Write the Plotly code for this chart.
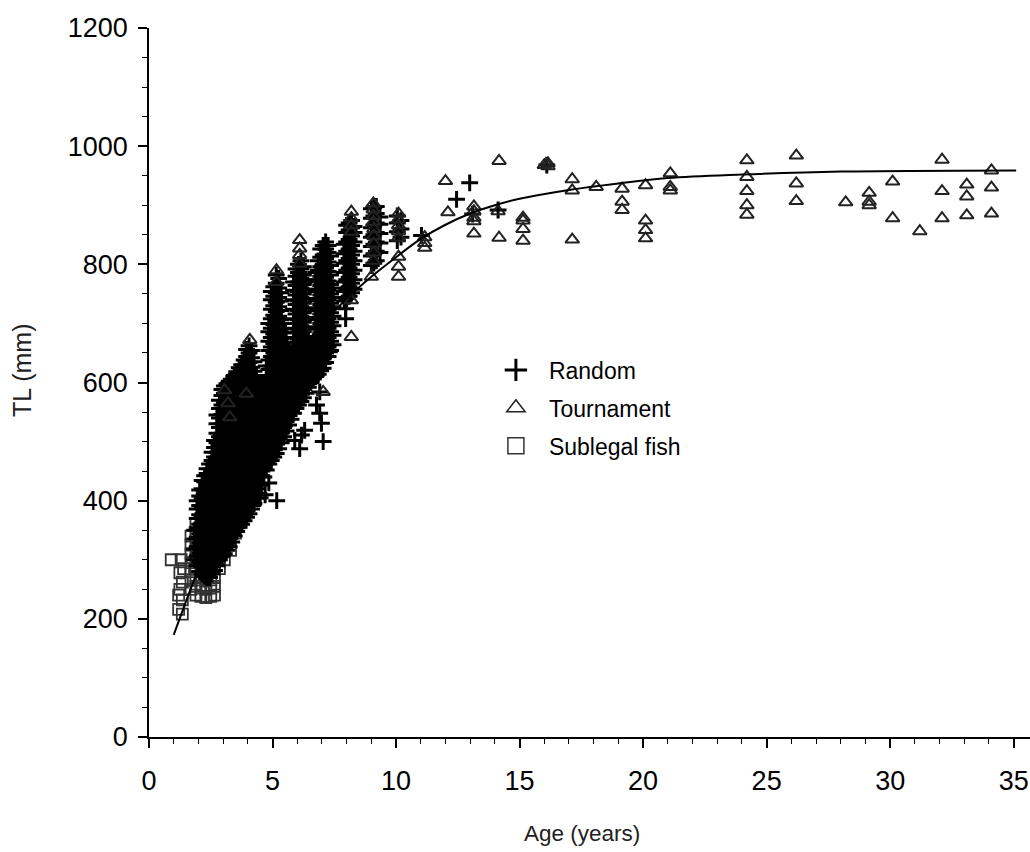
import plotly.graph_objects as go

# ---- Random sample (plus markers): total length (mm) by age column ----
random_col_age = [
    1.85, 1.95, 2.05, 2.15, 2.25, 2.35, 2.45, 2.55, 2.65, 2.75,
    2.85, 2.95, 3.05, 3.15, 3.25, 3.35, 3.45, 3.55, 3.65, 3.75,
    3.85, 3.95, 4.05, 4.15, 4.25, 4.35, 4.45, 4.55, 4.65, 4.75,
    4.85, 4.95, 5.05, 5.15, 5.25, 5.35, 5.45, 5.55, 5.65, 5.75,
    5.85, 5.95, 6.05, 6.15, 6.25, 6.35, 6.45, 6.55, 6.65, 6.75,
    6.85, 6.95, 7.05, 7.15, 7.25, 7.35, 7.45,
    7.9, 8.0, 8.1, 8.2, 8.3,
    9.0, 9.1, 9.2, 9.35, 10.05, 10.2,
]
random_col_tl = [
    [300, 318, 335, 350],
    [290, 306, 322, 338, 354, 370, 386, 400],
    [280, 296, 312, 328, 344, 360, 376, 392, 408, 418],
    [276, 292, 308, 324, 340, 356, 372, 388, 404, 420, 434],
    [272, 288, 304, 320, 336, 352, 368, 384, 400, 416, 432, 442],
    [270, 286, 302, 318, 334, 350, 366, 382, 398, 414, 430, 446, 454],
    [270, 286, 302, 318, 334, 350, 366, 382, 398, 414, 430, 446, 462],
    [276, 292, 308, 324, 340, 356, 372, 388, 404, 420, 436, 452, 468, 482],
    [282, 298, 314, 330, 346, 362, 378, 394, 410, 426, 442, 458, 474, 490, 502],
    [290, 306, 322, 338, 354, 370, 386, 402, 418, 434, 450, 466, 482, 498, 514, 530, 545],
    [300, 316, 332, 348, 364, 380, 396, 412, 428, 444, 460, 476, 492, 508, 524, 540, 556, 570],
    [306, 322, 338, 354, 370, 386, 402, 418, 434, 450, 466, 482, 498, 514, 530, 546, 562, 578, 588],
    [310, 326, 342, 358, 374, 390, 406, 422, 438, 454, 470, 486, 502, 518, 534, 550, 566, 582, 594],
    [316, 332, 348, 364, 380, 396, 412, 428, 444, 460, 476, 492, 508, 524, 540, 556, 572, 588, 598],
    [322, 338, 354, 370, 386, 402, 418, 434, 450, 466, 482, 498, 514, 530, 546, 562, 578, 594, 602],
    [330, 346, 362, 378, 394, 410, 426, 442, 458, 474, 490, 506, 522, 538, 554, 570, 586, 602],
    [340, 356, 372, 388, 404, 420, 436, 452, 468, 484, 500, 516, 532, 548, 564, 580, 596, 612],
    [348, 364, 380, 396, 412, 428, 444, 460, 476, 492, 508, 524, 540, 556, 572, 588, 604, 618],
    [355, 371, 387, 403, 419, 435, 451, 467, 483, 499, 515, 531, 547, 563, 579, 595, 611, 625],
    [360, 376, 392, 408, 424, 440, 456, 472, 488, 504, 520, 536, 552, 568, 584, 600, 616, 630],
    [366, 382, 398, 414, 430, 446, 462, 478, 494, 510, 526, 542, 558, 574, 590, 606, 622, 638],
    [372, 388, 404, 420, 436, 452, 468, 484, 500, 516, 532, 548, 564, 580, 596, 612, 628, 644, 656],
    [378, 394, 410, 426, 442, 458, 474, 490, 506, 522, 538, 554, 570, 586, 602, 618, 634, 650, 662],
    [386, 402, 418, 434, 450, 466, 482, 498, 514, 530, 546, 562, 578, 594, 610, 626, 642, 654],
    [395, 411, 427, 443, 459, 475, 491, 507, 523, 539, 555, 571, 587, 603, 619, 635],
    [404, 420, 436, 452, 468, 484, 500, 516, 532, 548, 564, 580, 596, 612],
    [412, 428, 444, 460, 476, 492, 508, 524, 540, 556, 572, 588, 600],
    [426, 442, 458, 474, 490, 506, 522, 538, 554, 570, 586, 598],
    [440, 456, 472, 488, 504, 520, 536, 552, 568, 584, 598],
    [452, 468, 484, 500, 516, 532, 548, 564, 580, 596, 612, 628],
    [462, 478, 494, 510, 526, 542, 558, 574, 590, 606, 622, 638, 654, 670, 686, 700],
    [468, 484, 500, 516, 532, 548, 564, 580, 596, 612, 628, 644, 660, 676, 692, 708, 724, 740, 754],
    [474, 490, 506, 522, 538, 554, 570, 586, 602, 618, 634, 650, 666, 682, 698, 714, 730, 746, 762],
    [480, 496, 512, 528, 544, 560, 576, 592, 608, 624, 640, 656, 672, 688, 704, 720, 736, 752, 768, 782],
    [488, 504, 520, 536, 552, 568, 584, 600, 616, 632, 648, 664, 680, 696, 712, 728, 744, 760, 776],
    [498, 514, 530, 546, 562, 578, 594, 610, 626, 642, 658, 674, 690, 706, 722, 738, 752],
    [508, 524, 540, 556, 572, 588, 604, 620, 636, 652, 668, 684, 700],
    [518, 534, 550, 566, 582, 598, 614, 630, 646, 662, 676],
    [528, 544, 560, 576, 592, 608, 624, 640, 656],
    [538, 554, 570, 586, 602, 618, 634, 650],
    [548, 564, 580, 596, 612, 628, 644, 660, 676, 692, 708, 724, 740, 756, 770],
    [556, 572, 588, 604, 620, 636, 652, 668, 684, 700, 716, 732, 748, 764, 780, 792],
    [562, 578, 594, 610, 626, 642, 658, 674, 690, 706, 722, 738, 754, 770, 786, 800],
    [568, 584, 600, 616, 632, 648, 664, 680, 696, 712, 728, 744, 760, 776, 792, 806],
    [574, 590, 606, 622, 638, 654, 670, 686, 702, 718, 734, 750, 766, 782, 796],
    [582, 598, 614, 630, 646, 662, 678, 694, 710, 726, 742, 758, 774],
    [592, 608, 624, 640, 656, 672],
    [600, 616, 632, 648, 664],
    [606, 622, 638, 654, 668],
    [610, 626, 642, 658, 674, 690, 706, 722, 738, 754, 770, 786],
    [614, 630, 646, 662, 678, 694, 710, 726, 742, 758, 774, 790, 806],
    [620, 636, 652, 668, 684, 700, 716, 732, 748, 764, 780, 796, 812, 826],
    [624, 640, 656, 672, 688, 704, 720, 736, 752, 768, 784, 800, 816, 832],
    [634, 650, 666, 682, 698, 714, 730, 746, 762, 778, 794, 810, 826, 838],
    [644, 660, 676, 692, 708, 724, 740, 756, 772, 788, 804, 820, 832],
    [654, 670, 686, 702, 718, 734, 750, 766, 782, 798, 814],
    [664, 680, 696, 712, 728, 744, 760],
    [738, 754, 770, 786, 802, 818, 834],
    [742, 758, 774, 790, 806, 822, 838, 854, 866],
    [746, 762, 778, 794, 810, 826, 842, 858, 870],
    [752, 768, 784, 800, 816, 832, 848, 862, 874],
    [758, 774, 790, 806, 822, 838, 854, 864],
    [798, 814, 830, 846, 862, 878, 894],
    [802, 818, 834, 850, 866, 882, 896],
    [806, 822, 838, 854, 870, 886, 898],
    [820, 836, 852, 868, 880],
    [840, 855, 870, 882],
    [846, 860, 874],
]
# individual fish away from the age columns
random_extra_age = [5.17, 4.7, 4.85, 4.2, 4.5, 6.78, 6.91, 6.91, 6.98, 7.05, 7.05, 7.3,
                    6.3, 6.17, 6.1, 5.9, 7.96, 7.96, 11.03, 12.45, 12.98, 14.13, 13.1, 16.1]
random_extra_tl = [400, 410, 430, 392, 405, 562, 584, 548, 531, 500, 632, 652,
                   519, 511, 488, 502, 725, 708, 849, 910, 938, 892, 885, 968]

random_age = [a for a, col in zip(random_col_age, random_col_tl) for _ in col] + random_extra_age
random_tl = [v for col in random_col_tl for v in col] + random_extra_tl

# ---- Tournament catches (open triangles) ----
tourn_age = [
    3.06, 3.2, 3.27, 3.94, 4.08,
    5.16, 5.16,
    6.1, 6.1, 6.1, 6.1,
    7.05,
    8.19, 8.19, 8.19, 8.19, 8.19, 8.19,
    9.08, 9.08, 9.08, 9.08, 9.1, 9.1, 9.1, 9.1, 9.08, 9.0,
    10.1, 10.1, 10.1, 10.1, 10.1, 10.1, 10.1, 10.1,
    11.16, 11.16, 11.16,
    12.0, 12.1,
    13.15, 13.15, 13.15, 13.15, 13.15,
    14.17, 14.13, 14.17,
    15.14, 15.14, 15.14, 15.14,
    16.15, 16.15, 16.0,
    17.13, 17.13, 17.13,
    18.1,
    19.15, 19.15, 19.15,
    20.1, 20.1, 20.1, 20.1,
    21.1, 21.1, 21.1,
    24.2, 24.2, 24.2, 24.2, 24.2,
    26.2, 26.2, 26.2,
    28.2,
    29.15, 29.15, 29.15,
    30.1, 30.1,
    31.2,
    32.1, 32.1, 32.1,
    33.1, 33.1, 33.1,
    34.1, 34.1, 34.1,
]
tourn_tl = [
    587, 565, 541, 581, 672,
    790, 770,
    841, 827, 816, 801,
    584,
    889, 878, 866, 855, 739, 677,
    903, 893, 882, 872, 860, 848, 835, 820, 806, 779,
    886, 876, 866, 856, 845, 813, 796, 779,
    846, 836, 828,
    941, 888,
    898, 890, 879, 873, 852,
    975, 890, 845,
    879, 874, 860, 840,
    971, 966, 968,
    944, 925, 842,
    931,
    928, 906, 892,
    934, 874, 858, 844,
    954, 931, 925,
    976, 948, 924, 900, 884,
    984, 937, 907,
    905,
    921, 906, 900,
    940, 878,
    856,
    977, 924, 878,
    935, 915, 883,
    959, 930, 886,
]

# ---- Sublegal fish (open squares) ----
sub_col_age = [1.7, 1.9, 2.1, 2.3, 2.5, 2.65, 2.85, 3.05, 3.3, 3.5]
sub_col_tl = [
    [250, 265, 280, 295, 310, 325, 340],
    [240, 255, 270, 285, 300, 315, 330, 345, 360],
    [238, 252, 266, 280, 295, 310, 325, 340, 355, 370],
    [236, 250, 264, 278, 292, 306, 320, 335, 350, 365, 380],
    [238, 252, 266, 280, 295, 310, 325, 340, 355],
    [240, 255, 270, 285, 300, 315],
    [285, 300, 315, 330],
    [300, 315, 330],
    [316, 333, 350],
    [345, 360, 375],
]
sub_extra_age = [0.9, 1.3, 1.25, 1.35, 1.2, 1.35, 1.2, 1.35, 1.25, 1.4]
sub_extra_tl = [300, 300, 278, 262, 240, 232, 216, 208, 250, 285]

sub_age = sub_extra_age + [a for a, col in zip(sub_col_age, sub_col_tl) for _ in col]
sub_tl = sub_extra_tl + [v for col in sub_col_tl for v in col]

# ---- Fitted growth curve ----
fit_age = [1.0, 1.3, 1.5, 2, 3, 4, 5, 6, 7, 8, 9, 10, 11, 12, 13, 14, 15,
           17, 19, 21, 24, 28, 35.1]
fit_tl = [173, 207, 230, 285, 395, 495, 585, 645, 697, 742, 779, 812, 843,
          867, 886, 900, 911, 926, 937, 946, 952, 957, 959]

x_ticks = [0, 5, 10, 15, 20, 25, 30, 35]
y_ticks = [0, 200, 400, 600, 800, 1000, 1200]

FONT = "Liberation Sans, Arial, sans-serif"

CROSS = dict(symbol="cross-thin-open", color="#000000")
TRI = dict(symbol="triangle-up-open", color="#222222")
SQ = dict(symbol="square-open", color="#333333")

fig = go.Figure()

fig.add_trace(go.Scatter(
    x=sub_age, y=sub_tl, mode="markers", showlegend=False,
    marker=dict(**SQ, size=11, line=dict(width=1.8, color=SQ["color"])),
))
fig.add_trace(go.Scatter(
    x=random_age, y=random_tl, mode="markers", showlegend=False,
    marker=dict(**CROSS, size=12, line=dict(width=3, color=CROSS["color"])),
))
fig.add_trace(go.Scatter(
    x=tourn_age, y=tourn_tl, mode="markers", showlegend=False,
    marker=dict(**TRI, size=12, line=dict(width=2, color=TRI["color"])),
))
fig.add_trace(go.Scatter(
    x=fit_age, y=fit_tl, mode="lines", line=dict(color="#000000", width=2, shape="spline"),
    showlegend=False, hoverinfo="skip",
))

# legend entries with larger keys
for name, style, lw, grp in [("Random", CROSS, 3, "a"), ("Tournament", TRI, 1.5, "b"),
                             ("Sublegal fish", SQ, 1.5, "c")]:
    fig.add_trace(go.Scatter(
        x=[None], y=[None], mode="markers", name=name, legendgroup=grp,
        marker=dict(**style, size=16, line=dict(width=lw, color=style["color"])),
    ))

axis_common = dict(
    showline=True, linecolor="#000000", linewidth=1.5,
    ticks="outside", ticklen=9, tickwidth=1.5, tickcolor="#000000",
    showgrid=False, zeroline=False,
    tickfont=dict(family=FONT, size=27, color="#000000"),
)

fig.update_xaxes(
    range=[0, 35.66], tickvals=x_ticks, ticktext=[str(v) for v in x_ticks],
    ticklabelstandoff=10,
    minor=dict(dtick=1, ticks="outside", ticklen=5, tickwidth=1.3, tickcolor="#000000"),
    **axis_common,
)
fig.update_yaxes(
    range=[0, 1200], tickvals=y_ticks, ticktext=[str(v) for v in y_ticks],
    ticklabelstandoff=5,
    minor=dict(dtick=50, ticks="outside", ticklen=5, tickwidth=1.3, tickcolor="#000000"),
    **axis_common,
)

# axis titles
fig.add_annotation(
    text="Age (years)", xref="paper", yref="paper", x=0.4915, y=0,
    xanchor="center", yanchor="middle", yshift=-96, showarrow=False,
    font=dict(family=FONT, size=22.5, color="#222222"),
)
fig.add_annotation(
    text="TL (mm)", xref="paper", yref="paper", x=0, y=0.5176,
    xanchor="center", yanchor="middle", xshift=-127, textangle=-90, showarrow=False,
    font=dict(family=FONT, size=25, color="#222222"),
)

fig.update_layout(
    width=1030, height=852,
    margin=dict(l=149, r=0, t=28, b=115),
    paper_bgcolor="#ffffff", plot_bgcolor="#ffffff",
    showlegend=True,
    legend=dict(
        x=0.379, y=0.548, xanchor="left", yanchor="top",
        font=dict(family=FONT, size=23, color="#000000"),
        bgcolor="rgba(0,0,0,0)", tracegroupgap=5, itemwidth=56,
    ),
)

fig.write_html("out.html")
